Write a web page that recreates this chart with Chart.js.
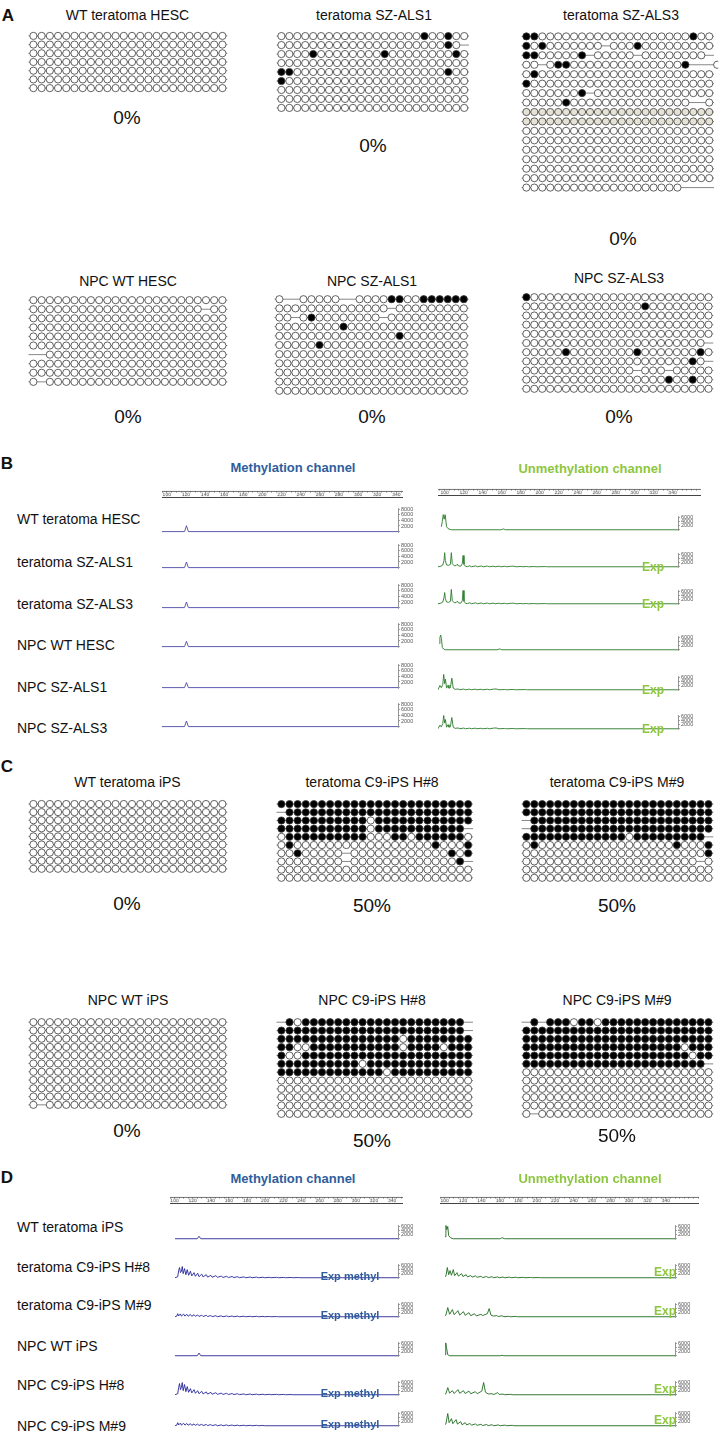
<!DOCTYPE html>
<html>
<head>
<meta charset="utf-8">
<script src="https://cdn.jsdelivr.net/npm/chart.js@4.4.1/dist/chart.umd.min.js"></script>
<style>
  body { margin: 0; background: #fff; }
  #fig { position: relative; width: 725px; height: 1434px; overflow: hidden; background: #fff;
         font-family: "Liberation Sans", Arial, sans-serif; }
  #fig canvas { position: absolute; }
  .lbl { position: absolute; white-space: nowrap; line-height: 1; color: #111; }
</style>
</head>
<body>
<div id="fig"></div>
<script>
// ---- bisulfite rows: o = unmethylated, x = methylated, g = grey, - = no read ----
const terWtHesc = [
  "oooooooooooooooooooooooo", "oooooooooooooooooooooooo", "oooooooooooooooooooooooo",
  "oooooooooooooooooooooooo", "oooooooooooooooooooooooo", "oooooooooooooooooooooooo",
  "oooooooooooooooooooooooo"
];
const terSzAls1 = [
  "ooooooooooooooooooxooxoo", "oooooooooooooooooooooxo-", "ooooxooooooooxooooooooxo",
  "oooooooooooooooooooooooo", "xxoooooooooooooooooooxoo", "xooooooooooooooooooooooo",
  "oooooooooooooooooooooooo", "oooooooooooooooooooooooo", "oooooooooooooooooooooooo"
];
const terSzAls3 = [
  "xxoooooooooooooooooooxoo", "xoxooooooo-oooxooooooooo", "xxooooox-ooooo-oooooooo-",
  "oo-oxxoooooooooooooox---o", "oxoooooooooooooooooooooo", "xooooooooooooooooooooooo",
  "ooooooox-ooooooooooooooo", "oooooxooooooooooooooo--o", "gggggggggggggggggggggggg",
  "gggggggggggggggggggggggg", "oooooooooooooooooooooooo", "oooooooooooooooooooooooo",
  "oooooooooooooooooooooooo", "oooooooooooooooooooooooo", "oooooooooooooooooooooooo",
  "oooooooooooooooooooooooo", "oooooooooooooooooooo----"
];
const npcWtHesc = [
  "oooooooooooooooooooooooo", "ooooooooooooooooooooo-oo", "oooooooooooooooooooooooo",
  "oooooooooooooooooooooooo", "oooooooooooooooooooooooo", "oooooooooooooooooooooooo",
  "--oooooooooooooooooooooo", "oooooooooooooooooooooooo", "oooooooooooooooooooooooo",
  "o-oooooooooooooooooooooo"
];
const npcSzAls1 = [
  "o--ooooo--ooooxxooxxxxxx", "oooooooooooooo-ooooooooo", "oo-oxoooooooo-oooooooooo",
  "ooooooooxooooooooooooooo", "oooooooooooooooxoooooooo", "oooooxoooooooooooooooooo",
  "oooooooooooooooooooooooo", "oooooooooooooooooooooooo", "oooooooooooooooooooooooo",
  "oooooooooooooooooooooooo", "oooooooooooooooooooooooo"
];
const npcSzAls3 = [
  "xooooooooooooooooooooooo", "oooooooooooooooxoooooooo", "oooooooooooooooooooooooo",
  "oooooooooooooooooooooooo", "oooooooooooooooooooooooo", "ooooooooooooooooooooooo-",
  "oooooxooooooooxoooooooxo", "oooooooooooooooooooooxo-", "oooooooooooooo-ooo-ooooo",
  "ooooooooooooooooooxooxoo", "oooooooooooooooooooooooo"
];
const terWtIps = [
  "oooooooooooooooooooooooo", "oooooooooooooooooooooooo", "oooooooooooooooooooooooo",
  "oooooooooooooooooooooooo", "oooooooooooooooooooooooo", "oooooooooooooooooooooooo",
  "oooooooooooooooooooooooo", "oooooooooooooooooooooooo", "oooooooooooooooooooooooo"
];
const terC9H8 = [
  "xxxxxxxxxxxxxxxxxxxxxxxx", "-xxxxxxxxxxxxxxxxxxxxxxx", "xxxxxxxxxxxoxxxxxxxxxxxx",
  "xxxxxxxxxxxoxxxxxxxxxxx-", "oxxxxxxxxxxoooxxoxxxxxxo", "oxoooooooooooooooooxooox",
  "ooxooooo-ooooooooooooxox", "oooooooo-ooooooooooooox", "oooooooooooooooooooooooo",
  "oooooooooooooooooooooooo"
];
const terC9M9 = [
  "xxxxxxxxxxxxxxxxxxxxxxxx", "xxxxxxxxxxxxxxxxxxxxxxxx", "-xxxxxxxxxxxxxxxxxxxxxxx",
  "-xxxxxxxxxxxxxxxxxxxxxxx", "xxxxxxxxxxxxxoxxxxxxxxx-", "oxoooooooooooooooooxooox",
  "ooooooooooooooooooooooox", "oooooooooooooooooooooo-o", "oooooooooooooooooooooooo",
  "oooooooooooooooooooooooo"
];
const npcWtIps = [
  "oooooooooooooooooooooooo", "oooooooooooooooooooooooo", "oooooooooooooooooooooooo",
  "oooooooooooooooooooooooo", "oooooooooooooooooooooooo", "oooooooooooooooooooooooo",
  "oooooooooooooooooooooooo", "oooooooooooooooooooooooo", "oooooooooooooooooooooooo",
  "oooooooooooooooooooooooo", "o-oooooooooooooooooooooo"
];
const npcC9H8 = [
  "-xoxxxxxxxxxxxxxxxxxxxx-", "xxxxxxxxxxxxxxxxxxxxxxx-", "xxxxxxxxxxxxxxxoxxxxxxxx",
  "xxooxxxxxxxxxxxoxxxxoxxx", "xooxxxxxxxxxxxxxxxxxxxxx", "xxxxxxxxxxoxxxxxxxxxxxxx",
  "xxxxxxxxxxxxxoxxxxxxxxxx", "oooooooooooooooooooooooo", "oooooooooooooooooooooooo",
  "oooooooooooooooooooooooo", "oooooooooooooooooooooooo", "oooooooooooooooooooooooo"
];
const npcC9M9 = [
  "-x-xxxoxxoxxxxxxxxxxxxxx", "xxxxxxxxxxxxxxxxxxxxxxxx", "xxxxxxxxxxxxxxxxxxxxxxxx",
  "xxxxxxxxxxxxxxxxxxxxoxxx", "xxxxxxxxxxxxxxxxxxxxxoxx", "xxxxxxxxxxxxxxxxxxxxxxx-",
  "oooooooooooooooooooooooo", "oooooooooooooooooooooooo", "oooooooooooooooooooooooo",
  "oooooooooooooooooooooooo", "oooooooooooooooooooooooo", "o-oooooooooooooooooooooo"
];

// ---- capillary traces: [fragment size (bp), signal] ----
const bMeth = [
  [[95,0],[118.5,0],[120.5,2100],[122.5,0],[341,0]],
  [[95,0],[118.5,0],[120.5,2000],[122.5,0],[341,0]],
  [[95,0],[118.5,0],[120.5,2000],[122.5,0],[341,0]],
  [[95,0],[118.5,0],[120.5,1900],[122.5,0],[341,0]],
  [[95,0],[118.5,0],[120.5,1800],[122.5,0],[341,0]],
  [[95,0],[118.5,0],[120.5,2000],[122.5,0],[341,0]]
];
const bUnmeth = [
  [[96.5,1500],[97.5,4000],[98.5,7400],[99.5,5200],[100.5,7400],[102,1500],[103.5,600],[105,300],[107,0],[159,0],[161.5,400],[164,0],[345,0]],
  [[93,0],[96,300],[98,800],[99.3,3000],[100,6900],[100.7,3000],[102,900],[104,700],[106,1200],[107,6900],[108,1500],[110,500],[112,600],[113.3,1300],[114.5,400],[117,300],[118.5,1500],[119.3,5500],[120.3,1200],[122,200],[124,100],[126.3,500],[128,0],[132.6,450],[134.5,0],[138.6,400],[140.5,0],[144.9,350],[147,0],[150.8,300],[153,0],[157.1,300],[159,0],[163.1,250],[165,0],[169,200],[172,300],[175,0],[180,150],[182,0],[186,150],[188,0],[194,120],[196,0],[206,100],[208,0],[345,0]],
  [[93,0],[96,300],[98,800],[99.3,3000],[100,5500],[100.7,2500],[102,900],[104,700],[106,1200],[107,7000],[108,1500],[110,500],[112,600],[113.3,1300],[114.5,400],[117,300],[118.5,1500],[119.3,6500],[120.3,1200],[122,200],[124,100],[126.3,500],[128,0],[132.6,450],[134.5,0],[138.6,400],[140.5,0],[144.9,350],[147,0],[150.8,300],[153,0],[157.1,300],[159,0],[163.1,250],[165,0],[169,200],[172,300],[175,0],[180,150],[182,0],[186,150],[188,0],[194,120],[196,0],[206,100],[208,0],[345,0]],
  [[94.5,3000],[95,6000],[95.8,7200],[96.6,5500],[97.5,1200],[99,300],[101,0],[155,0],[157.8,450],[160,0],[345,0]],
  [[93,0],[95,2100],[96.5,1000],[98,2500],[99,7500],[100,3000],[100.8,5200],[102,800],[103.5,2200],[104.5,800],[106,1000],[107.5,5700],[109,800],[111,200],[114,400],[116,0],[120,350],[122,0],[126,300],[128,0],[132,300],[134,0],[138,250],[140,0],[145,250],[147,0],[151,300],[154,400],[157,0],[163,150],[165,0],[172,150],[174,0],[185,100],[187,0],[345,0]],
  [[93,0],[95,1800],[96.5,900],[98,2500],[99,6500],[100,2800],[100.8,4500],[102,800],[103.5,2000],[104.5,800],[106,1000],[107.5,5500],[109,800],[111,200],[114,400],[116,0],[120,350],[122,0],[126,300],[128,0],[132,300],[134,0],[138,250],[140,0],[145,250],[147,0],[151,300],[154,400],[157,0],[163,150],[165,0],[172,150],[174,0],[185,100],[187,0],[345,0]]
];
const dMeth = [
  [[95,0],[119.5,0],[121.5,1200],[123.5,0],[341,0]],
  [[95,0],[98,500],[99,3500],[100,5000],[101,2500],[102,3000],[103,5500],[104,2000],[105.5,4500],[107,1500],[108.5,4000],[110,1200],[112,3200],[113.5,900],[116,2500],[117.5,700],[120,2200],[121.5,500],[124.5,1800],[126,400],[129.5,1500],[131,300],[134.5,1200],[136,250],[140,1000],[142,200],[146,800],[148,150],[152,700],[154,100],[158,600],[160,100],[164,500],[166,50],[171,400],[173,0],[178,350],[180,0],[185,300],[187,0],[192,250],[194,0],[199,200],[201,0],[207,200],[209,0],[215,150],[217,0],[223,150],[225,0],[231,100],[233,0],[341,0]],
  [[95,0],[97,300],[98,1500],[99,400],[101,1400],[102,300],[104.5,1300],[106,300],[108,1200],[109.5,250],[112,1100],[113.5,200],[116,1000],[117.5,200],[120,900],[121.5,150],[124.5,800],[126,100],[129.5,700],[131,100],[134.5,600],[136,50],[140,500],[142,0],[146,450],[148,0],[152,400],[154,0],[158,350],[160,0],[164,300],[166,0],[171,250],[173,0],[178,200],[180,0],[185,200],[187,0],[192,150],[194,0],[199,150],[201,0],[207,100],[209,0],[341,0]],
  [[95,0],[119.5,0],[121.5,1300],[123.5,0],[341,0]],
  [[95,0],[98,500],[99,3500],[100,5500],[101,2500],[102,3500],[103,6000],[104,2000],[105.5,5000],[107,1500],[108.5,4000],[110,1200],[112,3000],[113.5,900],[116,2500],[117.5,700],[120,2000],[121.5,500],[124.5,1700],[126,400],[129.5,1400],[131,300],[134.5,1200],[136,250],[140,1000],[142,200],[146,800],[148,150],[152,700],[154,100],[158,600],[160,100],[164,500],[166,50],[171,400],[173,0],[178,350],[180,0],[185,300],[187,0],[192,250],[194,0],[199,200],[201,0],[207,200],[209,0],[215,150],[217,0],[223,100],[225,0],[341,0]],
  [[95,0],[97,300],[98,1500],[99,400],[101,1300],[102,300],[104.5,1200],[106,300],[108,1100],[109.5,250],[112,1000],[113.5,200],[116,900],[117.5,200],[120,800],[121.5,150],[124.5,700],[126,100],[129.5,600],[131,100],[134.5,550],[136,50],[140,500],[142,0],[146,450],[148,0],[152,400],[154,0],[158,350],[160,0],[164,300],[166,0],[171,250],[173,0],[178,200],[180,0],[185,200],[187,0],[192,150],[194,0],[341,0]]
];
const dUnmeth = [
  [[93,0],[95,1000],[96,6500],[97,4500],[98,6000],[99,1500],[101,500],[104,0],[155,0],[157,500],[160,0],[345,0]],
  [[93,0],[96,800],[97.5,5000],[99,1500],[100.5,3500],[102,1200],[104,4000],[105.5,1000],[108,2500],[109.5,800],[113,2000],[114.5,600],[118,1500],[119.5,400],[123,1100],[124.5,300],[128,900],[130,200],[134,700],[136,100],[140,600],[142,50],[146,500],[148,0],[152,400],[154,0],[158,350],[160,0],[165,300],[167,0],[172,250],[174,0],[180,200],[182,0],[188,150],[190,0],[197,100],[199,0],[345,0]],
  [[93,0],[96,800],[98,4500],[100,1200],[103,3500],[105,1000],[109,3000],[111,800],[115,2500],[117,700],[121,2000],[123,500],[127,1500],[129,400],[134,1200],[136,600],[141,1500],[143,4000],[145,800],[148,300],[151,600],[153,100],[157,500],[159,0],[164,200],[166,0],[172,150],[174,0],[345,0]],
  [[93,0],[95,500],[95.8,6300],[96.6,4000],[98,500],[100,0],[155,0],[157,200],[159,0],[345,0]],
  [[93,0],[96,500],[98,3500],[100,800],[103,2000],[105,600],[109,2500],[111,700],[115,2000],[117,600],[121,1800],[123,500],[128,1500],[130,500],[135,1800],[137,6000],[139,1200],[142,400],[146,500],[148,100],[152,1000],[154,200],[158,300],[160,0],[166,200],[168,0],[345,0]],
  [[93,0],[96,900],[98,6000],[99.5,1500],[102,3500],[103.5,1000],[107,3000],[108.5,800],[112,2000],[113.5,500],[117,1500],[118.5,400],[122,1100],[124,300],[128,900],[130,200],[134,700],[136,100],[140,600],[142,50],[146,500],[148,0],[153,400],[155,0],[160,300],[162,0],[168,200],[170,0],[345,0]]
];
const rulerLabels = [100, 120, 140, 160, 180, 200, 220, 240, 260, 280, 300, 320, 340];
const methTicks = [0, 2000, 4000, 6000, 8000];
const unmethTicks = [0, 2000, 4000, 6000];

// ---- helpers ----
const fig = document.getElementById('fig');
const BLUE = '#2f5d9c', LIME = '#8dc63f';

function label(txt, x, y, size, opt = {}) {
  const d = document.createElement('div');
  d.className = 'lbl';
  d.textContent = txt;
  d.style.left = x + 'px';
  d.style.top = y + 'px';
  d.style.fontSize = size + 'px';
  if (opt.bold) d.style.fontWeight = 'bold';
  if (opt.color) d.style.color = opt.color;
  d.style.transform = opt.left ? 'translate(0,-50%)' : 'translate(-50%,-50%)';
  fig.appendChild(d);
}

function addCanvas(left, top, w, h) {
  const cv = document.createElement('canvas');
  cv.width = Math.round(w);
  cv.height = Math.round(h);
  cv.style.left = left + 'px';
  cv.style.top = top + 'px';
  fig.appendChild(cv);
  return cv;
}

const baseOpts = {
  responsive: false, animation: false, events: [],
  layout: { padding: 0 },
  plugins: { legend: { display: false }, tooltip: { enabled: false } }
};

// one lollipop (bisulfite clone) panel
function lollipop(rows, x0, dx, y0, dy) {
  const n = rows[0].length, R = rows.length;
  const padX = 9, padY = 7;
  const cv = addCanvas(x0 - padX, y0 - padY, (n - 1) * dx + 2 * padX, (R - 1) * dy + 2 * padY);
  const pts = [], fills = [];
  const datasets = [];
  rows.forEach((row, r) => {
    datasets.push({
      data: [{ x: -0.6, y: r }, { x: n - 0.4, y: r }],
      showLine: true, pointRadius: 0, borderColor: '#6a6a6a', borderWidth: 0.8, order: 2
    });
    [...row].forEach((ch, c) => {
      if (ch === '-') return;
      pts.push({ x: c, y: r });
      fills.push(ch === 'x' ? '#000' : ch === 'g' ? '#e6e3d6' : '#fff');
    });
  });
  datasets.push({
    data: pts, pointRadius: 3.6, pointBackgroundColor: fills,
    pointBorderColor: '#3a3a3a', pointBorderWidth: 0.8, order: 0
  });
  const xmin = -padX / dx, ymin = -padY / dy;
  new Chart(cv, {
    type: 'scatter',
    data: { datasets },
    options: Object.assign({}, baseOpts, {
      scales: {
        x: { type: 'linear', display: false, min: xmin, max: xmin + cv.width / dx },
        y: { type: 'linear', display: false, reverse: true, min: ymin, max: ymin + cv.height / dy }
      }
    })
  });
}

// size ruler on top of each channel
function ruler(left, top, bp0, bp1, pxPerBp) {
  const cv = addCanvas(left, top, (bp1 - bp0) * pxPerBp, 8);
  cv.style.borderBottom = '0.8px solid #444';
  new Chart(cv, {
    type: 'scatter',
    data: { datasets: [{ data: [] }] },
    options: Object.assign({}, baseOpts, {
      scales: {
        x: {
          type: 'linear', position: 'bottom', min: bp0, max: bp1,
          afterFit: s => { s.height = 7; },
          afterBuildTicks: s => {
            const t = [];
            for (let v = Math.ceil(bp0 / 5) * 5; v <= bp1; v += 5) t.push({ value: v });
            s.ticks = t;
          },
          ticks: {
            autoSkip: false, maxRotation: 0, padding: 0, color: '#444',
            font: { size: 5, family: 'Liberation Sans' },
            callback: v => rulerLabels.includes(v) ? String(v) : ''
          },
          grid: { drawOnChartArea: false, tickLength: 2, color: '#555', lineWidth: 0.6 },
          border: { display: true, color: '#333', width: 0.8 }
        },
        y: { display: false }
      }
    })
  });
}

// one electropherogram trace with its intensity axis on the right
function trace(points, o) {
  const axisW = 22;
  const plotW = (o.bp1 - o.bp0) * o.pxPerBp;
  const k = o.pxPerK / 1000;
  const yBot = -1.5 / k;
  const cv = addCanvas(o.left, o.base - o.yTop * k, plotW + axisW, (o.yTop - yBot) * k);
  new Chart(cv, {
    type: 'line',
    data: {
      datasets: [{
        data: points.map(([x, y]) => ({ x, y })),
        borderColor: o.color, borderWidth: 0.9, pointRadius: 0, tension: 0, clip: false
      }]
    },
    options: Object.assign({}, baseOpts, {
      scales: {
        x: { type: 'linear', display: false, min: o.bp0, max: o.bp1 },
        y: {
          type: 'linear', position: 'right', min: yBot, max: o.yTop,
          afterFit: s => { s.width = axisW; },
          afterBuildTicks: s => { s.ticks = o.ticks.map(v => ({ value: v })); },
          ticks: {
            autoSkip: false, padding: 1, color: '#555', font: { size: 5.5, family: 'Liberation Sans' },
            callback: v => v === 0 ? '' : String(v)
          },
          grid: { drawOnChartArea: false, tickLength: 2, color: '#666', lineWidth: 0.6 },
          border: { display: true, color: '#666', width: 0.7 }
        }
      }
    })
  });
}

// ---- panel A ----
label('A', 8, 15, 17, { bold: true });
label('WT teratoma HESC', 127.5, 15, 14);
label('teratoma SZ-ALS1', 374, 15, 14);
label('teratoma SZ-ALS3', 621, 15, 14);
lollipop(terWtHesc, 29, 8.6, 32.3, 10);
lollipop(terSzAls1, 276.7, 8.33, 32.3, 10);
lollipop(terSzAls3, 521.7, 8.33, 32.3, 10);
label('0%', 127, 116.5, 19);
label('0%', 373, 145, 19);
label('0%', 623, 238, 19);

label('NPC WT HESC', 128, 281, 14);
label('NPC SZ-ALS1', 372, 281, 14);
label('NPC SZ-ALS3', 619, 278, 14);
lollipop(npcWtHesc, 29, 8.6, 295.7, 10);
lollipop(npcSzAls1, 275, 8.4, 295, 10);
lollipop(npcSzAls3, 522.3, 8.3, 293.3, 10);
label('0%', 128, 416, 19);
label('0%', 372, 416, 19);
label('0%', 619, 416, 19);

// ---- panel B ----
label('B', 7, 463, 17, { bold: true });
label('Methylation channel', 293, 467, 13, { bold: true, color: BLUE });
label('Unmethylation channel', 590, 467.5, 13, { bold: true, color: LIME });
ruler(162.2, 489.5, 95, 347, 0.958);
ruler(438.3, 488, 93, 370, 0.951);

const bNames = ['WT teratoma HESC', 'teratoma SZ-ALS1', 'teratoma SZ-ALS3', 'NPC WT HESC', 'NPC SZ-ALS1', 'NPC SZ-ALS3'];
const bLabelY = [519, 561.5, 603.5, 645, 687, 728];
const bMethBase = [535.7, 571.7, 611.7, 651, 691.7, 731];
const bUnBase = [534, 570.7, 608.3, 654, 694, 733];
bNames.forEach((nm, i) => {
  label(nm, 17, bLabelY[i], 14, { left: true });
  trace(bMeth[i], { left: 162.2, base: bMethBase[i], bp0: 95, bp1: 341, pxPerBp: 0.958,
    pxPerK: 3.84, yTop: 8300, ticks: methTicks, color: '#4a4aa6' });
  trace(bUnmeth[i], { left: 438.3, base: bUnBase[i], bp0: 93, bp1: 345, pxPerBp: 0.951,
    pxPerK: 3.33, yTop: 6600, ticks: unmethTicks, color: '#2a7a2a' });
});
[1, 2, 4, 5].forEach(i => label('Exp', 653, bUnBase[i] - 4, 12, { bold: true, color: LIME }));

// ---- panel C ----
label('C', 7, 766, 17, { bold: true });
label('WT teratoma iPS', 127.5, 782, 14);
label('teratoma C9-iPS H#8', 372, 782, 14);
label('teratoma C9-iPS M#9', 617, 782, 14);
lollipop(terWtIps, 29, 8.6, 800, 9.1);
lollipop(terC9H8, 276.7, 8.5, 800, 9.1);
lollipop(terC9M9, 522, 8.3, 800, 9.1);
label('0%', 127, 903, 19);
label('50%', 372, 905, 19);
label('50%', 617, 905, 19);

label('NPC WT iPS', 128, 1000, 14);
label('NPC C9-iPS H#8', 372, 1000, 14);
label('NPC C9-iPS M#9', 617, 1000, 14);
lollipop(npcWtIps, 29, 8.6, 1018, 9.1);
lollipop(npcC9H8, 276.7, 8.5, 1018, 9.1);
lollipop(npcC9M9, 522, 8.3, 1018, 9.1);
label('0%', 127, 1130, 19);
label('50%', 372, 1140, 19);
label('50%', 617, 1135, 19);

// ---- panel D ----
label('D', 7, 1177, 17, { bold: true });
label('Methylation channel', 293, 1178, 13, { bold: true, color: BLUE });
label('Unmethylation channel', 590, 1178, 13, { bold: true, color: LIME });
ruler(170, 1196, 95, 352, 0.908);
ruler(440, 1196, 95, 376, 0.92);

const dNames = ['WT teratoma iPS', 'teratoma C9-iPS H#8', 'teratoma C9-iPS M#9', 'NPC WT iPS', 'NPC C9-iPS H#8', 'NPC C9-iPS M#9'];
const dLabelY = [1227, 1267, 1305, 1346, 1385, 1426];
const dBase = [1242, 1281, 1320, 1359, 1398, 1429];
dNames.forEach((nm, i) => {
  label(nm, 17, dLabelY[i], 14, { left: true });
  trace(dMeth[i], { left: 174.5, base: dBase[i], bp0: 95, bp1: 341, pxPerBp: 0.908,
    pxPerK: 3.2, yTop: 6600, ticks: [0, 2000, 4000, 6000], color: '#27279a' });
  trace(dUnmeth[i], { left: 444.6, base: dBase[i], bp0: 95, bp1: 345, pxPerBp: 0.92,
    pxPerK: 3.2, yTop: 6600, ticks: unmethTicks, color: '#1f6b1f' });
});
[1, 2, 4, 5].forEach(i => label('Exp methyl', 350, dBase[i] - 5, 11, { bold: true, color: BLUE }));
[1, 2, 4, 5].forEach(i => label('Exp', 665, dBase[i] - 9, 12, { bold: true, color: LIME }));
</script>
</body>
</html>
